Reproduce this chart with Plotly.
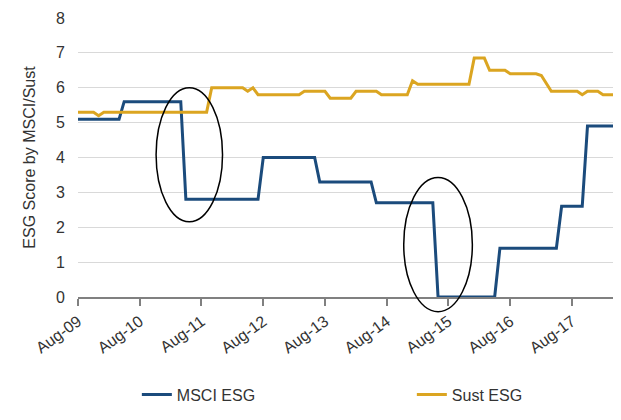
import plotly.graph_objects as go

# MSCI ESG score - monthly points where the level changes
msci_dates = ["2009-08-01", "2010-04-01", "2010-05-01", "2011-04-01", "2011-05-01",
              "2012-07-01", "2012-08-01", "2013-06-01", "2013-07-01", "2014-05-01",
              "2014-06-01", "2015-05-01", "2015-06-01", "2016-05-01", "2016-06-01",
              "2017-05-01", "2017-06-01", "2017-10-01", "2017-11-01", "2018-04-01"]
msci_vals = [5.1, 5.1, 5.6, 5.6, 2.8,
             2.8, 4.0, 4.0, 3.3, 3.3,
             2.7, 2.7, 0.0, 0.0, 1.4,
             1.4, 2.6, 2.6, 4.9, 4.9]

# Sustainalytics ESG score
sust_dates = ["2009-08-01", "2009-11-01", "2009-12-01", "2010-01-01", "2011-09-01",
              "2011-10-01", "2012-04-01", "2012-05-01", "2012-06-01", "2012-07-01",
              "2013-03-01", "2013-04-01", "2013-08-01", "2013-09-01", "2014-01-01",
              "2014-02-01", "2014-06-01", "2014-07-01", "2014-12-01", "2015-01-01",
              "2015-02-01", "2015-12-01", "2016-01-01", "2016-03-01", "2016-04-01",
              "2016-07-01", "2016-08-01", "2017-01-01", "2017-02-01", "2017-04-01",
              "2017-09-01", "2017-10-01", "2017-11-01", "2018-01-01", "2018-02-01",
              "2018-04-01"]
sust_vals = [5.3, 5.3, 5.2, 5.3, 5.3,
             6.0, 6.0, 5.9, 6.0, 5.8,
             5.8, 5.9, 5.9, 5.7, 5.7,
             5.9, 5.9, 5.8, 5.8, 6.2,
             6.1, 6.1, 6.85, 6.85, 6.5,
             6.5, 6.4, 6.4, 6.35, 5.9,
             5.9, 5.8, 5.9, 5.9, 5.8,
             5.8]

# circled regions: (x start, x end, y bottom, y top)
circles = [("2010-11-06", "2011-12-04", 2.16, 6.0),
           ("2014-11-10", "2015-12-21", -0.42, 3.43)]

y_max = 8
font = "Liberation Sans, Arial, sans-serif"

fig = go.Figure()
fig.add_trace(go.Scatter(x=msci_dates, y=msci_vals, mode="lines", name="MSCI ESG",
                         line=dict(color="#1b4b7c", width=3), legend="legend"))
fig.add_trace(go.Scatter(x=sust_dates, y=sust_vals, mode="lines", name="Sust ESG",
                         line=dict(color="#dba521", width=3), legend="legend2"))

for x0, x1, y0, y1 in circles:
    fig.add_shape(type="circle", xref="x", yref="paper",
                  x0=x0, x1=x1, y0=y0 / y_max, y1=y1 / y_max,
                  line=dict(color="black", width=1.5))

# the page body keeps an 8px margin, so the figure is sized to fit inside the window
leg = dict(orientation="h", xanchor="left", y=-0.35, yanchor="middle",
           font=dict(size=16), bgcolor="rgba(0,0,0,0)")
fig.update_layout(
    width=605, height=404,
    margin=dict(l=70, r=0, t=10, b=105),
    paper_bgcolor="white", plot_bgcolor="white",
    font=dict(family=font, size=16, color="#333333"),
    showlegend=True,
    legend=dict(leg, x=0.110),
    legend2=dict(leg, x=0.624),
)
fig.update_xaxes(
    type="date", range=["2009-08-01", "2018-04-01"], automargin=False,
    tick0="2009-08-01", dtick="M12", tickformat="%b-%y", tickangle=-36,
    showgrid=False, showline=True, linecolor="#808080", linewidth=2,
    ticks="outside", ticklen=7, tickcolor="#808080", tickwidth=1.5,
    tickfont=dict(size=16),
)
fig.update_yaxes(
    range=[0, y_max], dtick=1, showgrid=True, gridcolor="#d9d9d9", gridwidth=1,
    zeroline=False, showline=False, ticklabelstandoff=12, automargin=False,
    title=dict(text="ESG Score by MSCI/Sust", font=dict(size=16), standoff=16),
    tickfont=dict(size=16),
)

fig.write_html("out.html")
